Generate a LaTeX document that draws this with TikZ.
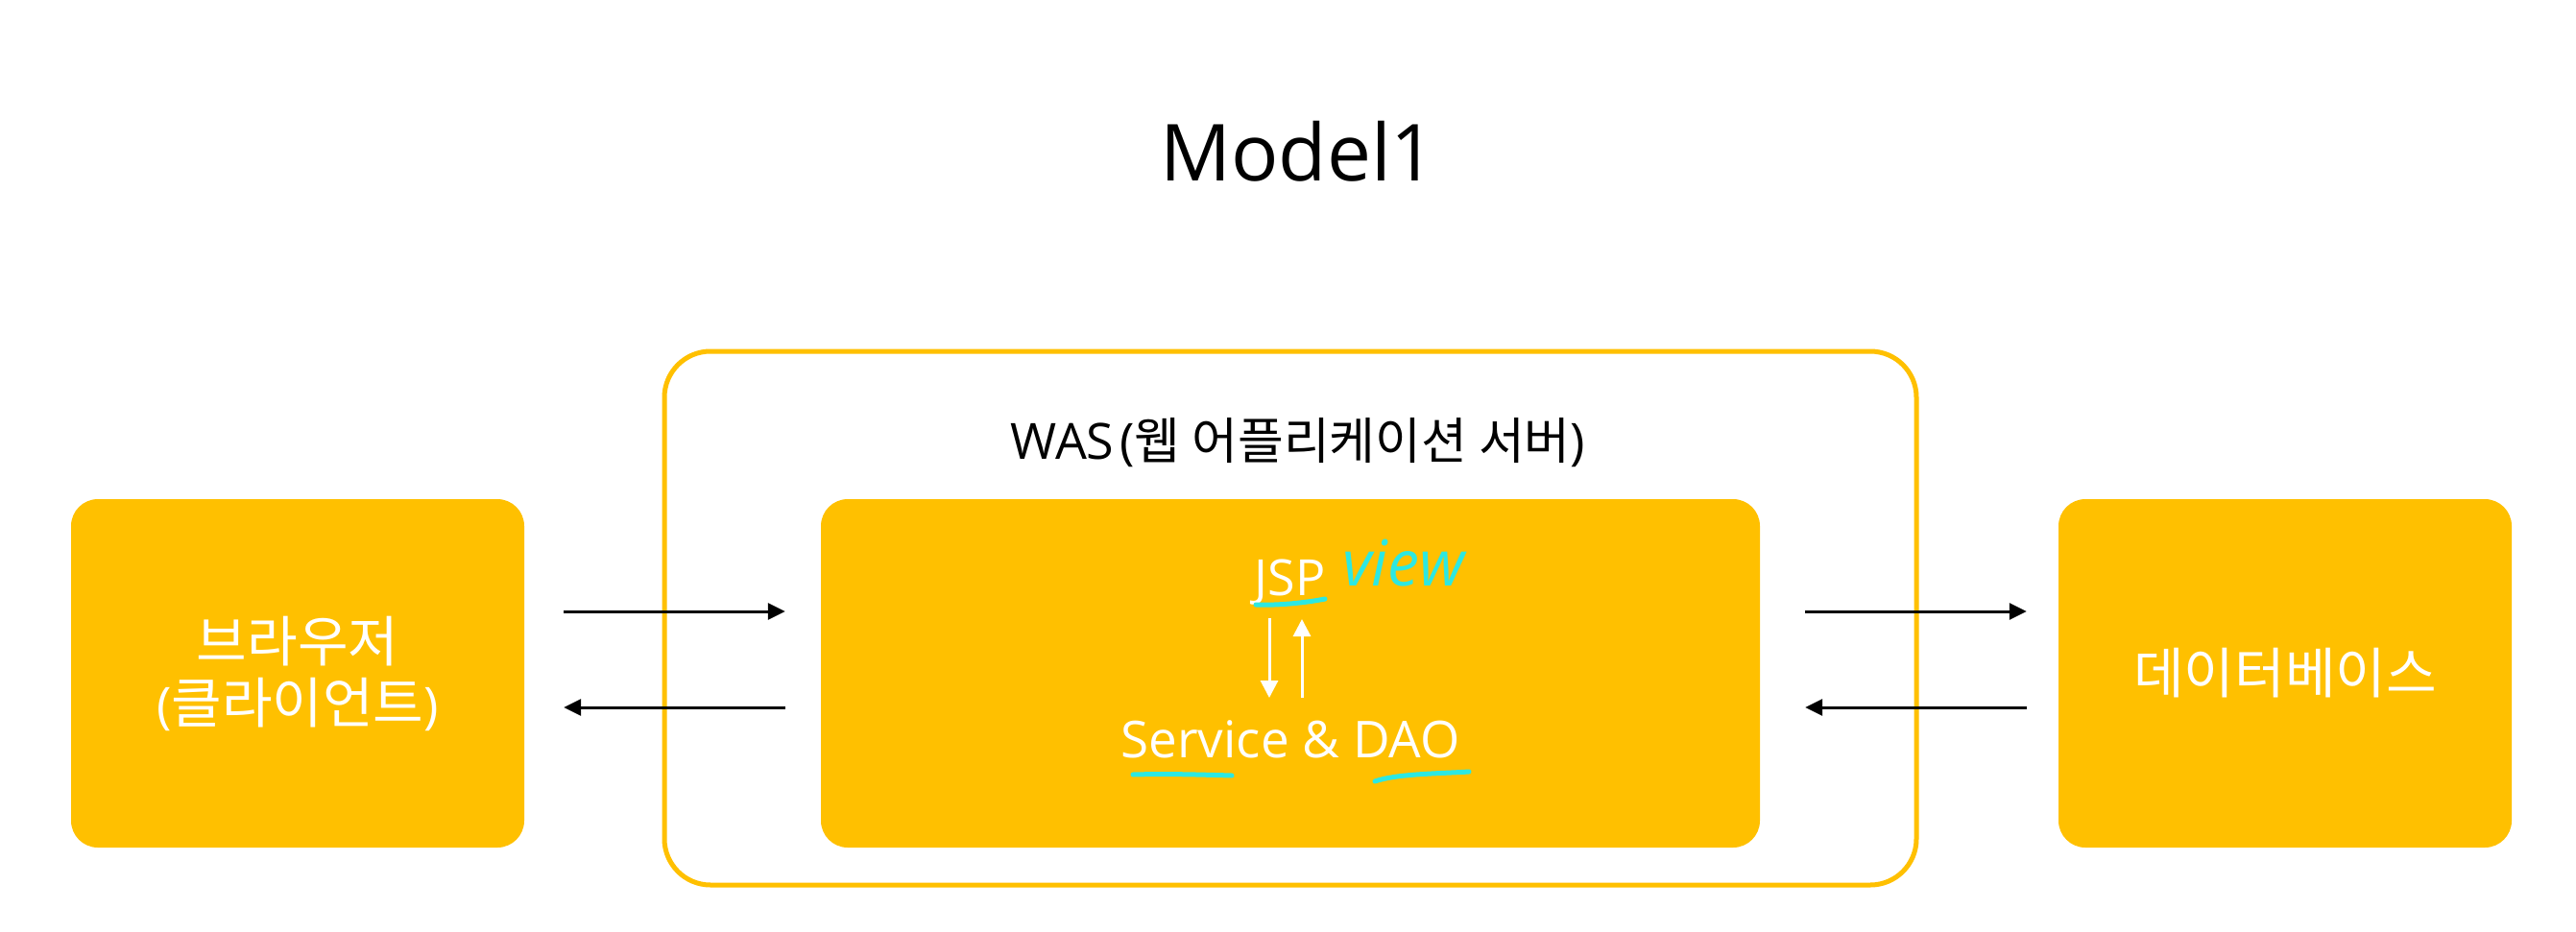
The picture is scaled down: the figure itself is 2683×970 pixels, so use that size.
\documentclass[tikz,border=0pt]{standalone}
\usepackage{fontspec}
\setmainfont{Open Sans}
\newfontfamily\krfont[Scale=1.1]{Noto Sans CJK KR}
\newfontfamily\krwas{Noto Sans CJK KR}
\usetikzlibrary{arrows.meta,calc}
\definecolor{boxyellow}{RGB}{255,192,0}
\definecolor{viewcyan}{RGB}{45,232,225}
\newcommand\bodysize{\fontsize{52}{64}\selectfont}
\begin{document}
\begin{tikzpicture}[x=1pt,y=-1pt,
  box/.style={fill=boxyellow, rounded corners=28pt, minimum width=472pt, minimum height=363pt, inner sep=0pt, text=white, align=center, font=\bodysize},
  wasbox/.style={draw=boxyellow, line width=5pt, rounded corners=48pt, minimum width=1304pt, minimum height=556pt, inner sep=0pt},
  barrow/.style={line width=3pt, -{Triangle[length=18pt,width=17pt]}},
  warrow/.style={white, line width=3pt, -{Triangle[length=18pt,width=18pt]}},
  wtext/.style={text=white, font=\bodysize, anchor=base, inner sep=0pt},
  mark line/.style={viewcyan, line width=5pt, line cap=round}
]
\fill[white] (0,0) rectangle (2683,970);
\useasboundingbox (0,0) rectangle (2683,970);

\node[anchor=base, inner sep=0pt, font=\fontsize{82}{90}\selectfont] (title) at (1352,188) {Model1};

\node[wasbox] (was) at (1344,644) {};
\node[anchor=base, inner sep=0pt, font=\bodysize] (waslabel) at (1352,478) {WAS\kern6pt({\krwas 웹 어플리케이션 서버})};

\node[box] (browser) at (310,701.5) {{\krfont 브라우저}\\({\krfont 클라이언트})};
\node[box, minimum width=978pt] (inner) at (1344,701.5) {};
\node[box] (db) at (2380,701.5) {\krfont 데이터베이스};

\node[wtext] (jsp) at (1343.5,620) {JSP};
\node[wtext, font=\fontsize{53}{64}\selectfont] (svc) at (1344,789) {Service \& DAO};
\node[anchor=base west, inner sep=0pt, text=viewcyan, font=\fontsize{66}{66}\selectfont\itshape] (view) at (1398,610) {view};

\draw[warrow] ($(jsp.base)+(-21.5,24)$) -- ($(svc.base)+(-22,-62)$);
\draw[warrow] ($(svc.base)+(12,-62)$) -- ($(jsp.base)+(12.5,25)$);

\draw[mark line] (1308,630) .. controls (1330,631) and (1360,628) .. (1380,624);
\draw[mark line] (1180,807) .. controls (1215,806) and (1250,807) .. (1283,808);
\draw[mark line] (1432,814) .. controls (1455,806) and (1500,806) .. (1530,804);

\draw[barrow] ($(browser.east)+(41,-64.5)$) -- ($(inner.west)+(-37,-64.5)$);
\draw[barrow] ($(inner.west)+(-37,35.5)$) -- ($(browser.east)+(41,35.5)$);
\draw[barrow] ($(inner.east)+(47,-64.5)$) -- ($(db.west)+(-33,-64.5)$);
\draw[barrow] ($(db.west)+(-33,35.5)$) -- ($(inner.east)+(47,35.5)$);
\end{tikzpicture}
\end{document}
